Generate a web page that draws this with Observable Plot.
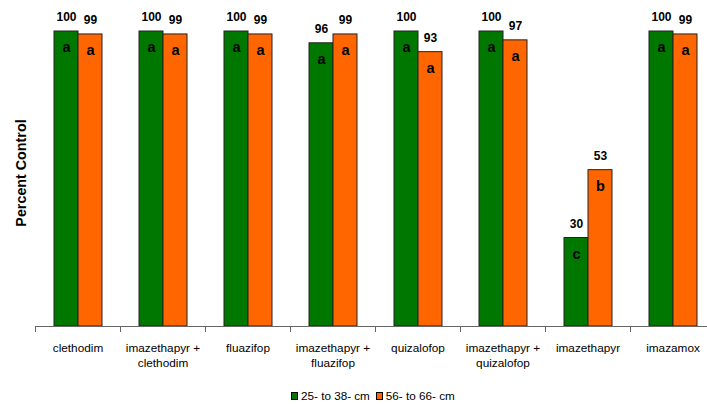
<!DOCTYPE html>
<html><head><meta charset="utf-8">
<script src="https://cdn.jsdelivr.net/npm/d3@7"></script>
<script src="https://cdn.jsdelivr.net/npm/@observablehq/plot@0.6"></script>
<style>
body{margin:0;background:#fff;font-family:"Liberation Sans",Arial,sans-serif;}
#wrap{position:relative;width:707px;height:404px;overflow:hidden;background:#fff;}
#ylab{position:absolute;left:21px;top:173px;transform:translate(-50%,-50%) rotate(-90deg);font-weight:bold;font-size:14.3px;white-space:nowrap;color:#000;}
#legend{position:absolute;left:291px;top:389px;font-size:11.7px;display:flex;align-items:center;white-space:nowrap;color:#000;}
.sw{display:inline-block;width:5px;height:6px;border:1px solid #000;margin-right:3px;}
.item{display:flex;align-items:center;margin-right:6px;}
</style></head><body>
<div id="wrap"><div id="chart"></div><div id="ylab">Percent Control</div><div id="legend"></div></div>
<script>
const herbicides = ["clethodim","imazethapyr +\nclethodim","fluazifop","imazethapyr +\nfluazifop","quizalofop","imazethapyr +\nquizalofop","imazethapyr","imazamox"];
const seriesNames = ["25- to 38- cm","56- to 66- cm"];
const valuesSmall = [100,100,100,96,100,100,30,100];
const valuesLarge = [99,99,99,99,93,97,53,99];
const lettersSmall = ["a","a","a","a","a","a","c","a"];
const lettersLarge = ["a","a","a","a","a","a","b","a"];
const colors = ["#007800","#ff6600"];

const rows = [];
herbicides.forEach((h,i)=>{
  rows.push({herb:h, series:seriesNames[0], value:valuesSmall[i], letter:lettersSmall[i]});
  rows.push({herb:h, series:seriesNames[1], value:valuesLarge[i], letter:lettersLarge[i]});
});

const H = 372;
const chart = Plot.plot({
  width: 707, height: H,
  marginLeft: 34, marginRight: -8, marginTop: 31, marginBottom: H - 326,
  fx: {domain: herbicides, padding: 0, axis: null, label: null},
  x: {domain: seriesNames, paddingInner: 0, paddingOuter: 0.74, axis: null},
  y: {domain: [0,100], axis: null},
  color: {domain: seriesNames, range: colors},
  style: {fontFamily: "'Liberation Sans', Arial, sans-serif", background: "transparent", color: "#000"},
  marks: [
    Plot.barY(rows, {fx: "herb", x: "series", y: "value", fill: "series", stroke: "#222", strokeWidth: 1}),
    Plot.text(rows, {fx: "herb", x: "series", y: "value", text: d => String(d.value), dy: -14, fontWeight: "bold", fontSize: 12, fill: "#000"}),
    Plot.text(rows, {fx: "herb", x: "series", y: "value", text: "letter", dy: 16, fontWeight: "bold", fontSize: 14.5, fill: "#000"}),
    Plot.ruleY([0], {stroke: "#666"}),
    Plot.frame({anchor: "left", stroke: "#666", insetTop: 295, insetBottom: -5}),
    Plot.text(herbicides, {fx: d => d, text: d => d, frameAnchor: "bottom", dy: 14, lineAnchor: "top", fontSize: 11.8, lineHeight: 1.33, fill: "#000"})
  ]
});
document.getElementById("chart").appendChild(chart);

const leg = document.getElementById("legend");
seriesNames.forEach((s,i)=>{
  const it = document.createElement("span"); it.className = "item";
  const sw = document.createElement("span"); sw.className = "sw"; sw.style.background = colors[i];
  it.appendChild(sw); it.appendChild(document.createTextNode(s));
  leg.appendChild(it);
});
</script>
</body></html>
